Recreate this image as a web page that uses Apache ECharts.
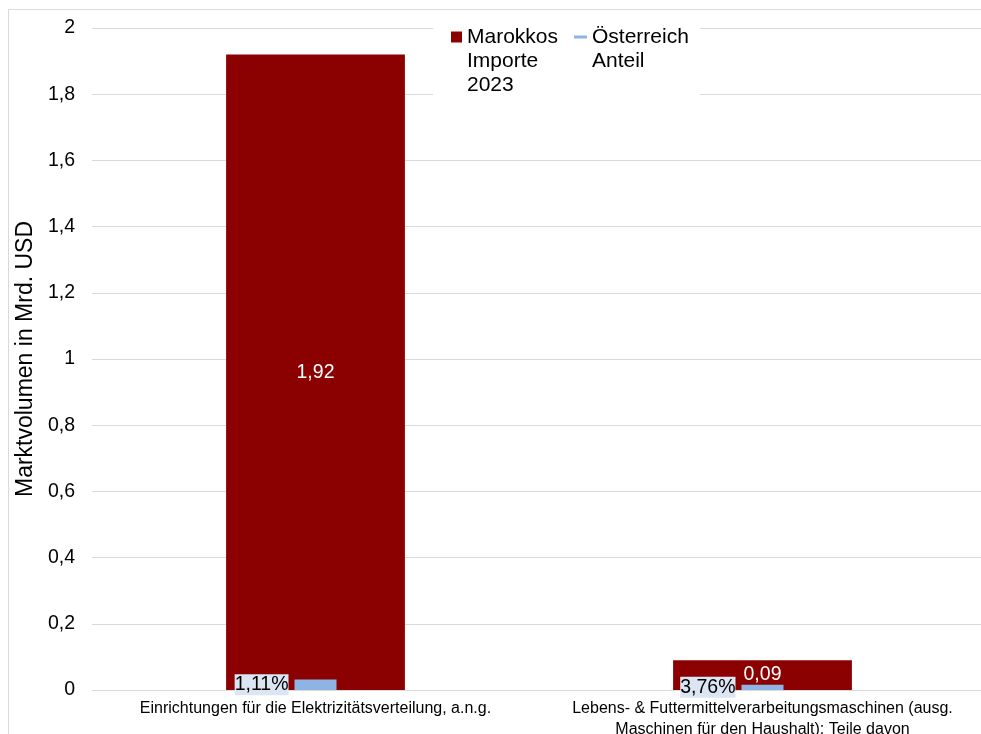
<!DOCTYPE html>
<html>
<head>
<meta charset="utf-8">
<script src="https://cdn.jsdelivr.net/npm/echarts@6/dist/echarts.min.js"></script>
<style>
html,body{margin:0;padding:0;background:#fff;}
#c{width:981px;height:734px;}
</style>
</head>
<body>
<div id="c"></div>
<script>
const categories = [
  'Einrichtungen für die Elektrizitätsverteilung, a.n.g.',
  'Lebens- & Futtermittelverarbeitungsmaschinen (ausg.\nMaschinen für den Haushalt); Teile davon'
];
const importValues = [1.92, 0.09];          // Marokkos Importe 2023 (Mrd. USD)
const austriaSharePct = [1.11, 3.76];        // Österreich Anteil (%)
const austriaBarValues = [0.032, 0.016];     // drawn height of the share bars
const yTicks = [0, 0.2, 0.4, 0.6, 0.8, 1, 1.2, 1.4, 1.6, 1.8, 2];

const FONT = 'Liberation Sans, Arial, Helvetica, sans-serif';
const fmt = v => String(Math.round(v * 100) / 100).replace('.', ',');

const chart = echarts.init(document.getElementById('c'));
chart.setOption({
  backgroundColor: '#fff',
  textStyle: { fontFamily: FONT },
  animation: false,
  graphic: [
    { type: 'rect', z: 1, shape: { x: 8.5, y: 9.5, width: 1100, height: 1100 },
      style: { fill: 'none', stroke: '#d9d9d9', lineWidth: 1 } },
    { type: 'rect', z: 3, shape: { x: 433, y: 20, width: 267, height: 80 },
      style: { fill: '#fff' } }
  ],
  legend: [
    {
      data: [{ name: 'Marokkos Importe 2023', icon: 'rect' }],
      formatter: () => '\n\nMarokkos\nImporte\n2023',
      left: 451, top: -23, padding: 0,
      itemWidth: 11, itemHeight: 11, itemGap: 5, selectedMode: false,
      textStyle: { fontSize: 21, lineHeight: 24, color: '#000', fontFamily: FONT }
    },
    {
      data: [{ name: 'Österreich Anteil', icon: 'rect' }],
      formatter: () => '\nÖsterreich\nAnteil',
      left: 574, top: 1, padding: 0,
      itemWidth: 13, itemHeight: 3, itemGap: 5, selectedMode: false,
      textStyle: { fontSize: 21, lineHeight: 24, color: '#000', fontFamily: FONT }
    }
  ],
  grid: { left: 92, top: 28, width: 894, height: 662, containLabel: false, outerBoundsMode: 'none' },
  xAxis: [
    {
      type: 'category', data: categories,
      axisLine: { lineStyle: { color: '#d9d9d9', width: 1 } },
      axisTick: { show: false },
      axisLabel: { color: '#000', fontSize: 16, lineHeight: 21, margin: 8, fontFamily: FONT, interval: 0 }
    },
    { type: 'category', data: categories, show: false }
  ],
  yAxis: {
    type: 'value', min: 0, max: 2, interval: 0.2,
    name: 'Marktvolumen in Mrd. USD', nameLocation: 'middle', nameGap: 53,
    nameTextStyle: { fontSize: 23, color: '#000', fontFamily: FONT },
    axisLine: { show: false }, axisTick: { show: false },
    axisLabel: { color: '#000', fontSize: 19.5, margin: 17, fontFamily: FONT,
      padding: [3, 0, 0, 0], formatter: v => fmt(v) },
    splitLine: { lineStyle: { color: '#d9d9d9', width: 1 } }
  },
  series: [
    {
      name: 'Marokkos Importe 2023', type: 'bar', data: importValues,
      xAxisIndex: 0, barWidth: '40%',
      itemStyle: { color: '#8b0000' },
      label: { show: true, position: 'inside', color: '#fff', fontSize: 19.5,
        fontFamily: FONT, formatter: p => fmt(p.value) }
    },
    {
      name: 'Österreich Anteil', type: 'bar', data: austriaBarValues,
      xAxisIndex: 1, barWidth: 42, z: 3,
      itemStyle: { color: '#8eb4e3' },
      label: { show: true, position: 'left', distance: 6, color: '#000',
        fontSize: 19.5, fontFamily: FONT, backgroundColor: '#dce6f2',
        padding: [1, 0, 0, 0],
        formatter: p => String(austriaSharePct[p.dataIndex].toFixed(2)).replace('.', ',') + '%' }
    }
  ]
});
</script>
</body>
</html>
